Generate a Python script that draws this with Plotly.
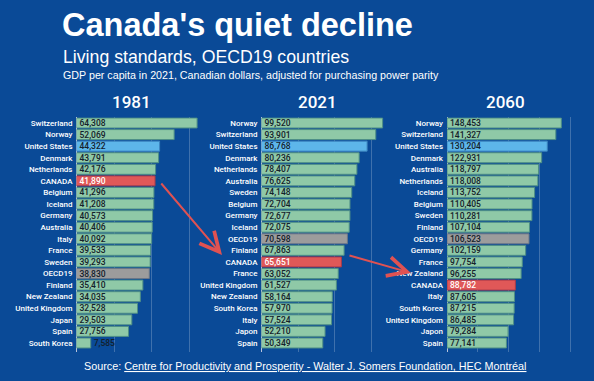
import plotly.graph_objects as go

W, H = 594, 381

countries_1981 = ["Switzerland", "Norway", "United States", "Denmark", "Netherlands", "CANADA",
                  "Belgium", "Iceland", "Germany", "Australia", "Italy", "France", "Sweden",
                  "OECD19", "Finland", "New Zealand", "United Kingdom", "Japan", "Spain", "South Korea"]
values_1981 = [64308, 52069, 44322, 43791, 42176, 41890, 41296, 41208, 40573, 40406, 40092,
               39533, 39293, 38830, 35410, 34035, 32528, 29503, 27756, 7585]

countries_2021 = ["Norway", "Switzerland", "United States", "Denmark", "Netherlands", "Australia",
                  "Sweden", "Belgium", "Germany", "Iceland", "OECD19", "Finland", "CANADA", "France",
                  "United Kingdom", "New Zealand", "South Korea", "Italy", "Japon", "Spain"]
values_2021 = [99520, 93901, 86768, 80236, 78407, 76625, 74148, 72704, 72677, 72075, 70598,
               67863, 65651, 63052, 61527, 58164, 57970, 57524, 52210, 50349]

countries_2060 = ["Norway", "Switzerland", "United States", "Denmark", "Australia", "Netherlands",
                  "Iceland", "Belgium", "Sweden", "Finland", "OECD19", "Germany", "France",
                  "New Zealand", "CANADA", "Italy", "South Korea", "United Kingdom", "Japon", "Spain"]
values_2060 = [148453, 141327, 130204, 122931, 118797, 118008, 113752, 110405, 110281, 107104,
               106523, 102159, 97754, 96255, 88782, 87605, 87215, 86485, 79284, 77141]

years = ["1981", "2021", "2060"]

BG = "#0a4a97"
GREEN, GREEN_L = "#8fc9a7", "#4f8f86"
BLUE, BLUE_L = "#5db6ea", "#3d86c0"
RED, RED_L = "#e05858", "#a83c4a"
GREY, GREY_L = "#9c9c9c", "#6a7688"


def px_x(p):
    return p / W


def px_y(p):
    return 1 - p / H


def styles(names):
    fills, lines, tcol = [], [], []
    for n in names:
        if n == "CANADA":
            fills.append(RED); lines.append(RED_L); tcol.append("white")
        elif n == "United States":
            fills.append(BLUE); lines.append(BLUE_L); tcol.append("#14202a")
        elif n == "OECD19":
            fills.append(GREY); lines.append(GREY_L); tcol.append("#14202a")
        else:
            fills.append(GREEN); lines.append(GREEN_L); tcol.append("#14202a")
    return fills, lines, tcol


panels = [
    (countries_1981, values_1981, 76.5, 203, 1.875, 20000),
    (countries_2021, values_2021, 261.5, 390, 1.217, 30000),
    (countries_2060, values_2060, 447, 580, 0.77, 40000),
]

fig = go.Figure()
ytop, ybot = 117.2, 348.8
for i, (names, vals, x0, x1, scale, dt) in enumerate(panels):
    fills, lines, tcol = styles(names)
    n = "" if i == 0 else str(i + 1)
    pos = ["inside" if v * scale / 1000 > 30 else "outside" for v in vals]
    fig.add_trace(go.Bar(
        x=vals, y=names, orientation="h",
        xaxis="x" + n, yaxis="y" + n,
        marker=dict(color=fills, line=dict(color=lines, width=1)),
        text=[f"{v:,}" for v in vals], textposition=pos,
        insidetextanchor="start", cliponaxis=False,
        textfont=dict(family="Roboto", size=8.5, color=tcol, weight=500),
        constraintext="none", showlegend=False, hoverinfo="skip",
    ))
    rng = (x1 - x0) / scale * 1000
    fig.layout["xaxis" + n] = dict(
        domain=[px_x(x0), px_x(x1)], range=[0, rng], anchor="y" + n,
        showgrid=True, gridcolor="rgba(255,255,255,0.22)", gridwidth=1, dtick=dt,
        zeroline=True, zerolinecolor="#b8c4dc", zerolinewidth=1,
        showticklabels=False, fixedrange=True,
    )
    fig.layout["yaxis" + n] = dict(
        domain=[px_y(ybot + 3), px_y(ytop)], anchor="x" + n,
        categoryorder="array", categoryarray=names,
        range=[len(names) - 0.5 + 0.26, -0.5],
        tickfont=dict(family="Roboto", size=8, color="white", weight=500),
        ticklabelstandoff=3, showgrid=False, zeroline=False, showline=False,
        fixedrange=True,
    )
    fig.add_annotation(
        x=px_x(x0 + (x1 - x0) / 2 - 8), y=px_y(102), xref="paper", yref="paper",
        text=years[i], showarrow=False, xanchor="center", yanchor="middle",
        font=dict(family="Roboto", size=17, color="white", weight=500),
    )

# title block
fig.add_annotation(x=px_x(60), y=px_y(25), xref="paper", yref="paper", showarrow=False,
                   xanchor="left", yanchor="middle", text="<b>Canada's quiet decline</b>",
                   font=dict(family="Liberation Sans", size=32.5, color="white"))
fig.add_annotation(x=px_x(61), y=px_y(57), xref="paper", yref="paper", showarrow=False,
                   xanchor="left", yanchor="middle", text="Living standards, OECD19 countries",
                   font=dict(family="Liberation Sans", size=17.7, color="white"))
fig.add_annotation(x=px_x(61), y=px_y(75), xref="paper", yref="paper", showarrow=False,
                   xanchor="left", yanchor="middle",
                   text="GDP per capita in 2021, Canadian dollars, adjusted for purchasing power parity",
                   font=dict(family="Liberation Sans", size=10.7, color="white"))
fig.add_annotation(x=px_x(305), y=px_y(366), xref="paper", yref="paper", showarrow=False,
                   xanchor="center", yanchor="middle",
                   text="Source: <u>Centre for Productivity and Prosperity - Walter J. Somers Foundation, HEC Montréal</u>",
                   font=dict(family="Liberation Sans", size=10.8, color="white"))

# arrows
for tail, tip in [((160, 182), (222, 255)), ((348, 255), (411, 273))]:
    fig.add_annotation(x=px_x(tip[0]), y=px_y(tip[1]), xref="paper", yref="paper",
                       ax=tail[0] - tip[0], ay=tail[1] - tip[1], axref="pixel", ayref="pixel",
                       text="", showarrow=True, arrowhead=5, arrowsize=1.9, arrowwidth=2,
                       arrowcolor="#e05252", standoff=0)

fig.update_layout(
    width=W, height=H, margin=dict(l=0, r=0, t=0, b=0),
    paper_bgcolor=BG, plot_bgcolor=BG, bargap=0.14,
    uniformtext=dict(minsize=8, mode="show"),
)

fig.write_html("out.html", config={"displayModeBar": False},
               post_script="document.body.style.margin='0';document.body.style.overflow='hidden';")
